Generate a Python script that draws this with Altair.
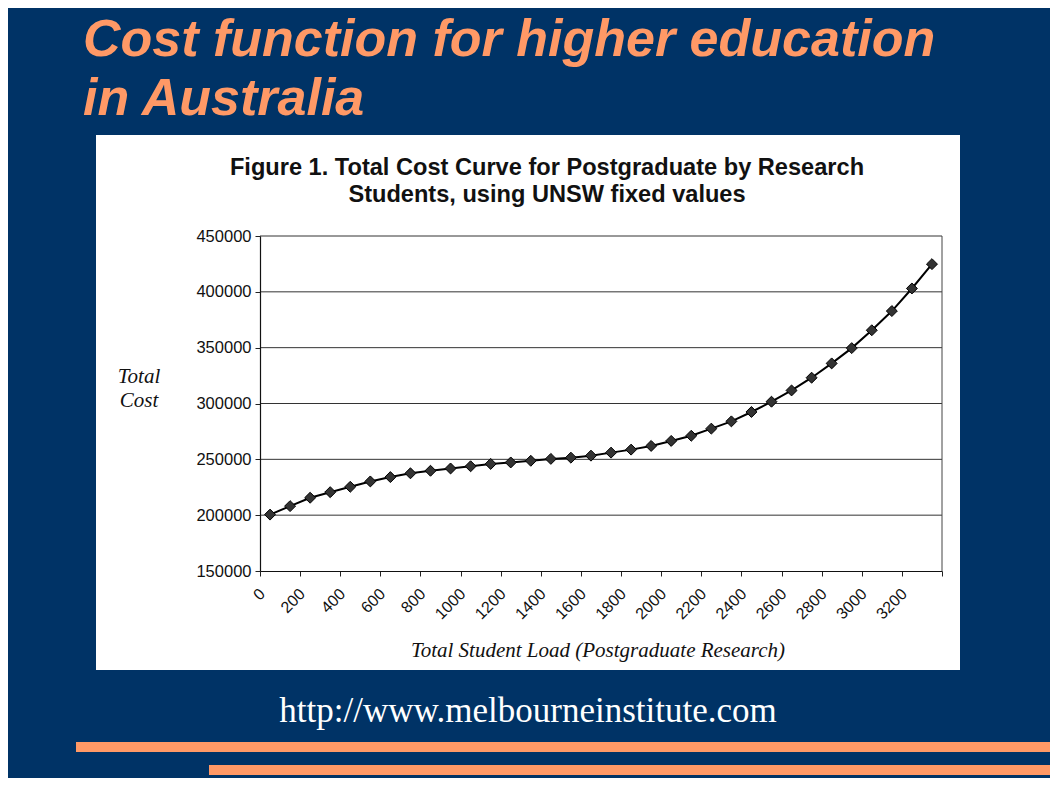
import altair as alt
import pandas as pd

# ---- data ----
student_load = [0, 100, 200, 300, 400, 500, 600, 700, 800, 900,
                1000, 1100, 1200, 1300, 1400, 1500, 1600, 1700, 1800, 1900,
                2000, 2100, 2200, 2300, 2400, 2500, 2600, 2700, 2800, 2900,
                3000, 3100, 3200, 3300]
total_cost = [200500, 208100, 215600, 220600, 225400, 230200, 234100, 237500, 239750, 241800,
              243800, 245900, 247200, 248700, 250400, 251500, 253300, 256000, 258700, 262000,
              266500, 271100, 277500, 284000, 292400, 301600, 311700, 323100, 335900, 349600,
              365600, 382800, 403000, 424800]
y_ticks = [150000, 200000, 250000, 300000, 350000, 400000, 450000]
x_labels_max = 3200
half_step = 50
x_bounds = [v - half_step for v in student_load] + [student_load[-1] + half_step]

slide_title = ["Cost function for higher education", "in Australia"]
chart_title = ["Figure 1. Total Cost Curve for Postgraduate by Research",
               "Students, using UNSW fixed values"]
y_title = ["Total", "Cost"]
x_title = "Total Student Load (Postgraduate Research)"
url = "http://www.melbourneinstitute.com"

BLUE = "#003366"
ORANGE = "#FF9966"
W, H = 682, 335

df = pd.DataFrame({"load": student_load, "cost": total_cost})
grid_df = pd.DataFrame({"cost": y_ticks[1:]})
one = pd.DataFrame({"k": [0]})

label_expr = (
    f"((datum.value + {half_step}) % 200 == 0 && datum.value + {half_step} <= {x_labels_max})"
    f" ? format(datum.value + {half_step}, 'd') : ''"
)

x_enc = alt.X(
    "load:Q",
    scale=alt.Scale(domain=[x_bounds[0], x_bounds[-1]], nice=False, zero=False),
    axis=alt.Axis(
        values=x_bounds,
        labelExpr=label_expr,
        labelAngle=315, labelAlign="right", labelBaseline="middle",
        labelOffset=2, labelPadding=15,
        labelFont="Liberation Sans", labelFontSize=16, labelColor="#111",
        tickSize=5, tickColor="#222", domainColor="#111", domainWidth=1.2,
        grid=False, title=None, zindex=1, labelOverlap=False, labelFlush=False,
    ),
)
y_enc = alt.Y(
    "cost:Q",
    scale=alt.Scale(domain=[y_ticks[0], y_ticks[-1]], nice=False, zero=False),
    axis=alt.Axis(
        values=y_ticks, format="d",
        labelFont="Liberation Sans", labelFontSize=16.5, labelColor="#111", labelPadding=4,
        tickSize=5, tickColor="#222", domainColor="#111", domainWidth=1.2,
        grid=False, title=None, zindex=1,
    ),
)

panel = alt.Chart(one).mark_rect(color="white").encode(
    x=alt.value(-164), x2=alt.value(700), y=alt.value(-101), y2=alt.value(434))

bar1 = alt.Chart(one).mark_rect(color=ORANGE).encode(
    x=alt.value(-184), x2=alt.value(790), y=alt.value(506), y2=alt.value(516))
bar2 = alt.Chart(one).mark_rect(color=ORANGE).encode(
    x=alt.value(-51), x2=alt.value(790), y=alt.value(529), y2=alt.value(539))

grid = alt.Chart(grid_df).mark_rule(color="#333", strokeWidth=1).encode(
    y=alt.Y("cost:Q"))
right_border = alt.Chart(one).mark_rule(color="#444", strokeWidth=1).encode(
    x=alt.value(W), y=alt.value(0), y2=alt.value(H))

line = alt.Chart(df).mark_line(color="#000", strokeWidth=2).encode(x=x_enc, y=y_enc)
points = alt.Chart(df).mark_point(
    shape="diamond", filled=True, size=120, fill="#333", stroke="#000",
    strokeWidth=1, opacity=1).encode(x="load:Q", y="cost:Q")

t_slide = alt.Chart(one).mark_text(
    text=slide_title, font="Liberation Sans", fontSize=52, fontWeight="bold",
    fontStyle="italic", color=ORANGE, align="left", baseline="alphabetic",
    lineHeight=59).encode(x=alt.value(-177), y=alt.value(-180))

t_chart = alt.Chart(one).mark_text(
    text=chart_title, font="Liberation Sans", fontSize=23.6, fontWeight="bold",
    color="#111", align="center", baseline="alphabetic",
    lineHeight=27).encode(x=alt.value(287), y=alt.value(-61))

t_y = alt.Chart(one).mark_text(
    text=y_title, font="Liberation Serif", fontSize=21, fontStyle="italic",
    color="#111", align="center", baseline="alphabetic",
    lineHeight=24).encode(x=alt.value(-121), y=alt.value(147))

t_x = alt.Chart(one).mark_text(
    text=x_title, font="Liberation Serif", fontSize=21, fontStyle="italic",
    color="#111", align="center", baseline="alphabetic").encode(
    x=alt.value(338), y=alt.value(421))

t_url = alt.Chart(one).mark_text(
    text=url, font="Liberation Serif", fontSize=35, color="white",
    align="center", baseline="alphabetic").encode(x=alt.value(268), y=alt.value(486))

chart = alt.layer(
    panel, bar1, bar2, grid, right_border, line, points,
    t_slide, t_chart, t_y, t_x, t_url,
).properties(
    width=W, height=H,
    padding={"left": 252, "top": 228, "right": 108, "bottom": 207},
    autosize=alt.AutoSizeParams(type="none"),
    background=BLUE,
).configure_view(stroke=None)

chart.save("out.html", embed_options={"renderer": "svg", "actions": False})
